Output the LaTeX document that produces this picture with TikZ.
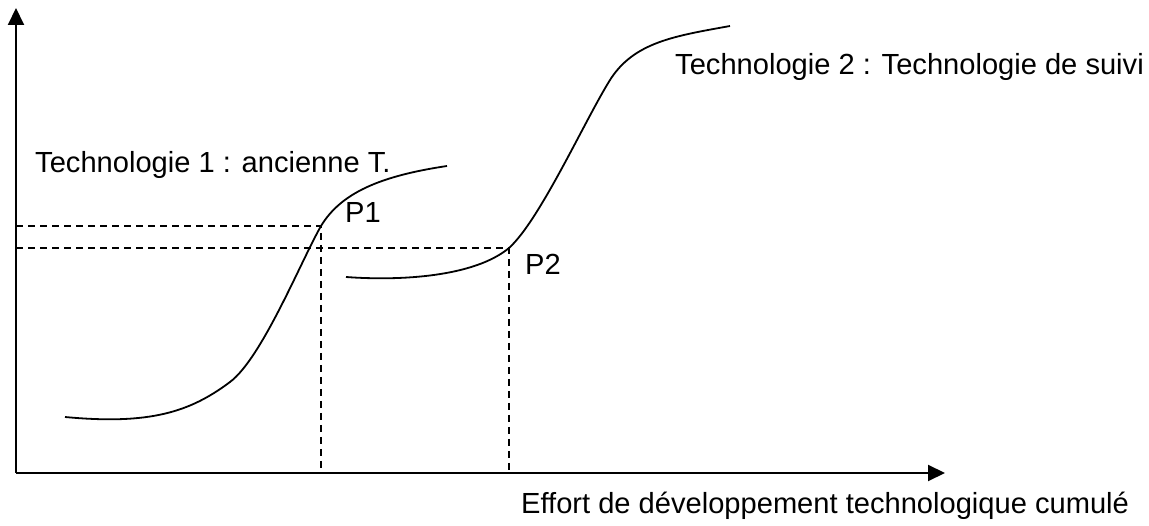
\documentclass[tikz,border=0pt]{standalone}
\usepackage{fontspec}
\setmainfont{Liberation Sans}
\usetikzlibrary{arrows.meta}
\begin{document}
\begin{tikzpicture}[x=1pt,y=-1pt,
  axisline/.style={line width=2pt,-{Triangle[length=17pt,width=16pt]}},
  curveline/.style={line width=1.8pt},
  guide/.style={line width=1.5pt,dash pattern=on 7pt off 5pt},
  lbl/.style={anchor=base west,inner sep=0pt,font=\fontsize{29.1}{34}\selectfont}]
\useasboundingbox (0,0) rectangle (1149,526);
\coordinate (O) at (16,473);
\coordinate (ytop) at (16,8);
\coordinate (xend) at (945,473);
\draw[axisline] (O) -- (ytop);
\draw[axisline] (O) -- (xend);
% points
\coordinate (p1) at (321,226);
\coordinate (p2) at (509,248);
\coordinate (p1y) at (16,226);
\coordinate (p2y) at (16,248);
\coordinate (p1x) at (321,473);
\coordinate (p2x) at (509,473);
\draw[guide] (p1y) -- (p1) -- (p1x);
\draw[guide] (p2y) -- (p2) -- (p2x);
% curves
\coordinate (c1s) at (65,417);
\coordinate (c1a) at (230,382);
\coordinate (c1e) at (447,166);
\draw[curveline] (c1s) .. controls (150,425) and (190,412) .. (c1a)
  .. controls (262,358) and (301,261) .. (p1)
  .. controls (341,193) and (380,176) .. (c1e);
\coordinate (c2s) at (346,277);
\coordinate (c2a) at (610,80);
\coordinate (c2e) at (730,26);
\draw[curveline] (c2s) .. controls (400,281) and (474,277) .. (p2)
  .. controls (540,220) and (585,120) .. (c2a)
  .. controls (634,42) and (675,36) .. (c2e);
% labels
\node[lbl] (t1) at (35,173) {Technologie 1 : ancienne T.};
\node[lbl] (t2) at (675,75) {Technologie 2 : Technologie de suivi};
\node[lbl] (lp1) at (345,223) {P1};
\node[lbl] (lp2) at (525,275) {P2};
\node[lbl] (xl) at (521,513) {Effort de développement technologique cumulé};
\end{tikzpicture}
\end{document}
